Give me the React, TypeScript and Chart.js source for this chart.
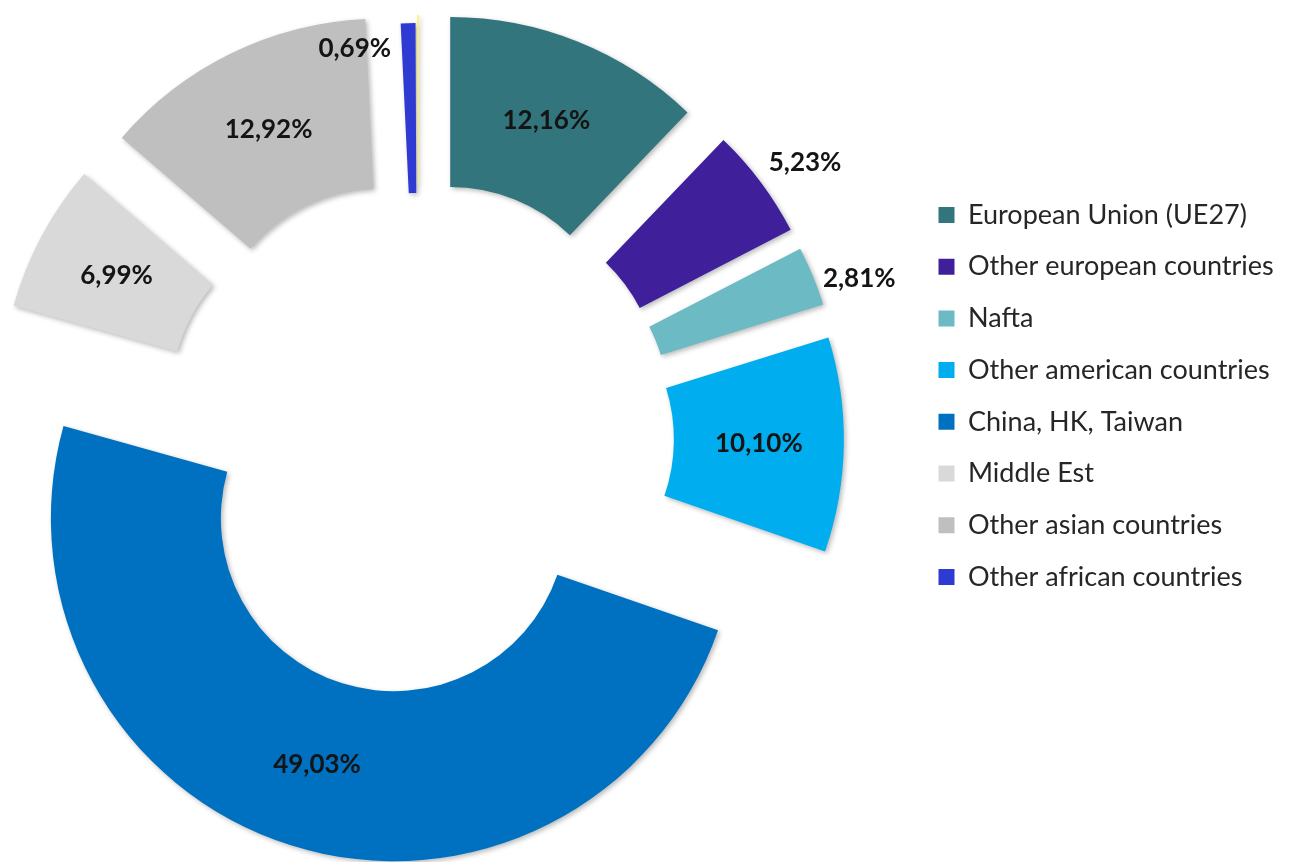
import React, { useEffect, useRef } from 'react';
import { Chart, registerables } from 'chart.js';

Chart.register(...registerables);

// ---- data ----
const REGIONS = [
  'European Union (UE27)',
  'Other european countries',
  'Nafta',
  'Other american countries',
  'China, HK, Taiwan',
  'Middle Est',
  'Other asian countries',
  'Other african countries',
  '',
];
const SHARES = [12.16, 5.23, 2.81, 10.1, 49.03, 6.99, 12.92, 0.69, 0.07];
const COLORS = [
  '#33757D',
  '#40209A',
  '#6BBAC4',
  '#00AEEF',
  '#0070C0',
  '#D9D9D9',
  '#BFBFBF',
  '#2F3AD2',
  '#FFF35A',
];

// ---- styling / layout ----
const EXPLODE = [84, 84, 83, 82, 84, 85, 85, 72, 80];
const OUTSIDE_LABEL: Record<number, { dx: number; dy: number; align: CanvasTextAlign }> = {
  1: { dx: 8, dy: -20, align: 'left' },
  2: { dx: 10, dy: 3, align: 'left' },
  7: { dx: -17, dy: 25, align: 'right' },
};
const W = 1310;
const H = 862;
const CENTER_X = 418.4;
const CENTER_Y = 438;
const OUTER_R = 343;
const INNER_R = 173;
const LEGEND_X = 938;
const LEGEND_FIRST_Y = 215;
const ROW_STEP = 51.7;
const LEGEND_FONT = 'Lato';
const LEGEND_SIZE = 27;
const BOX = 16;
const VALUE_SIZE = 26;

const fmt = (v: number) => v.toFixed(2).replace('.', ',') + '%';

const explodePlugin = {
  id: 'explodeArcs',
  afterDatasetsUpdate(chart: any) {
    const meta = chart.getDatasetMeta(0);
    meta.data.forEach((arc: any, i: number) => {
      const mid = (arc.startAngle + arc.endAngle) / 2;
      arc.x += Math.cos(mid) * EXPLODE[i];
      arc.y += Math.sin(mid) * EXPLODE[i];
    });
  },
};

const shadowPlugin = {
  id: 'arcShadow',
  beforeDatasetsDraw(chart: any) {
    const c = chart.ctx;
    c.save();
    c.shadowColor = 'rgba(0,0,0,0.28)';
    c.shadowBlur = 5;
    c.shadowOffsetX = 2;
    c.shadowOffsetY = 2;
  },
  afterDatasetsDraw(chart: any) {
    chart.ctx.restore();
  },
};

const valueLabelPlugin = {
  id: 'valueLabels',
  afterDatasetsDraw(chart: any) {
    const c = chart.ctx;
    const meta = chart.getDatasetMeta(0);
    c.save();
    c.font = `bold ${VALUE_SIZE}px ${LEGEND_FONT}`;
    c.fillStyle = '#141414';
    c.textBaseline = 'middle';
    meta.data.forEach((arc: any, i: number) => {
      if (!REGIONS[i]) return;
      const text = fmt(SHARES[i]);
      const place = OUTSIDE_LABEL[i];
      if (!place) {
        const p = arc.getCenterPoint();
        c.textAlign = 'center';
        c.fillText(text, p.x, p.y);
      } else {
        const mid = (arc.startAngle + arc.endAngle) / 2;
        const ox = arc.x + Math.cos(mid) * arc.outerRadius;
        const oy = arc.y + Math.sin(mid) * arc.outerRadius;
        c.textAlign = place.align;
        c.fillText(text, ox + place.dx, oy + place.dy);
      }
    });
    c.restore();
  },
};

export default function App() {
  const ref = useRef<HTMLCanvasElement>(null);
  const wrapRef = useRef<HTMLDivElement>(null);

  useEffect(() => {
    const canvas = ref.current;
    const wrap = wrapRef.current;
    if (!canvas || !wrap) return;

    const m = document.createElement('canvas').getContext('2d')!;
    m.font = `${LEGEND_SIZE}px ${LEGEND_FONT}`;
    const maxText = Math.max(...REGIONS.filter((t) => t).map((t) => m.measureText(t).width));
    const colW = BOX + LEGEND_SIZE / 2 + maxText;
    const pad = ROW_STEP - LEGEND_SIZE;
    // shift the canvas left so that the chart area (which starts at 0) is centred on CENTER_X
    const shift = Math.max(0, LEGEND_X - pad - 2 * CENTER_X);
    const padL = 2 * CENTER_X + 2 * shift - (LEGEND_X + shift - pad);
    const padR = W - 10 - colW - LEGEND_X;
    const padT = LEGEND_FIRST_Y - ROW_STEP + LEGEND_SIZE / 2;
    const padB = H - (2 * CENTER_Y - padT);

    wrap.style.left = `${-shift}px`;
    wrap.style.width = `${W + shift}px`;

    const chart = new Chart(canvas, {
      type: 'doughnut',
      data: {
        labels: REGIONS,
        datasets: [
          {
            data: SHARES,
            backgroundColor: COLORS,
            borderWidth: 0,
          },
        ],
      },
      options: {
        animation: false,
        responsive: true,
        maintainAspectRatio: false,
        events: [],
        radius: OUTER_R,
        cutout: `${(INNER_R / OUTER_R) * 100}%`,
        layout: { padding: { left: Math.max(0, padL), right: padR, top: padT, bottom: padB } },
        plugins: {
          tooltip: { enabled: false },
          legend: {
            position: 'right',
            align: 'start',
            labels: {
              boxWidth: BOX,
              boxHeight: BOX,
              padding: pad,
              color: '#262626',
              font: { family: LEGEND_FONT, size: LEGEND_SIZE },
              filter: (item: any) => item.text !== '',
            },
          },
        },
      } as any,
      plugins: [shadowPlugin, explodePlugin, valueLabelPlugin],
    });

    return () => chart.destroy();
  }, []);

  return (
    <div
      ref={wrapRef}
      style={{ position: 'fixed', left: 0, top: 0, width: W, height: H, background: '#fff' }}
    >
      <canvas ref={ref} />
    </div>
  );
}
